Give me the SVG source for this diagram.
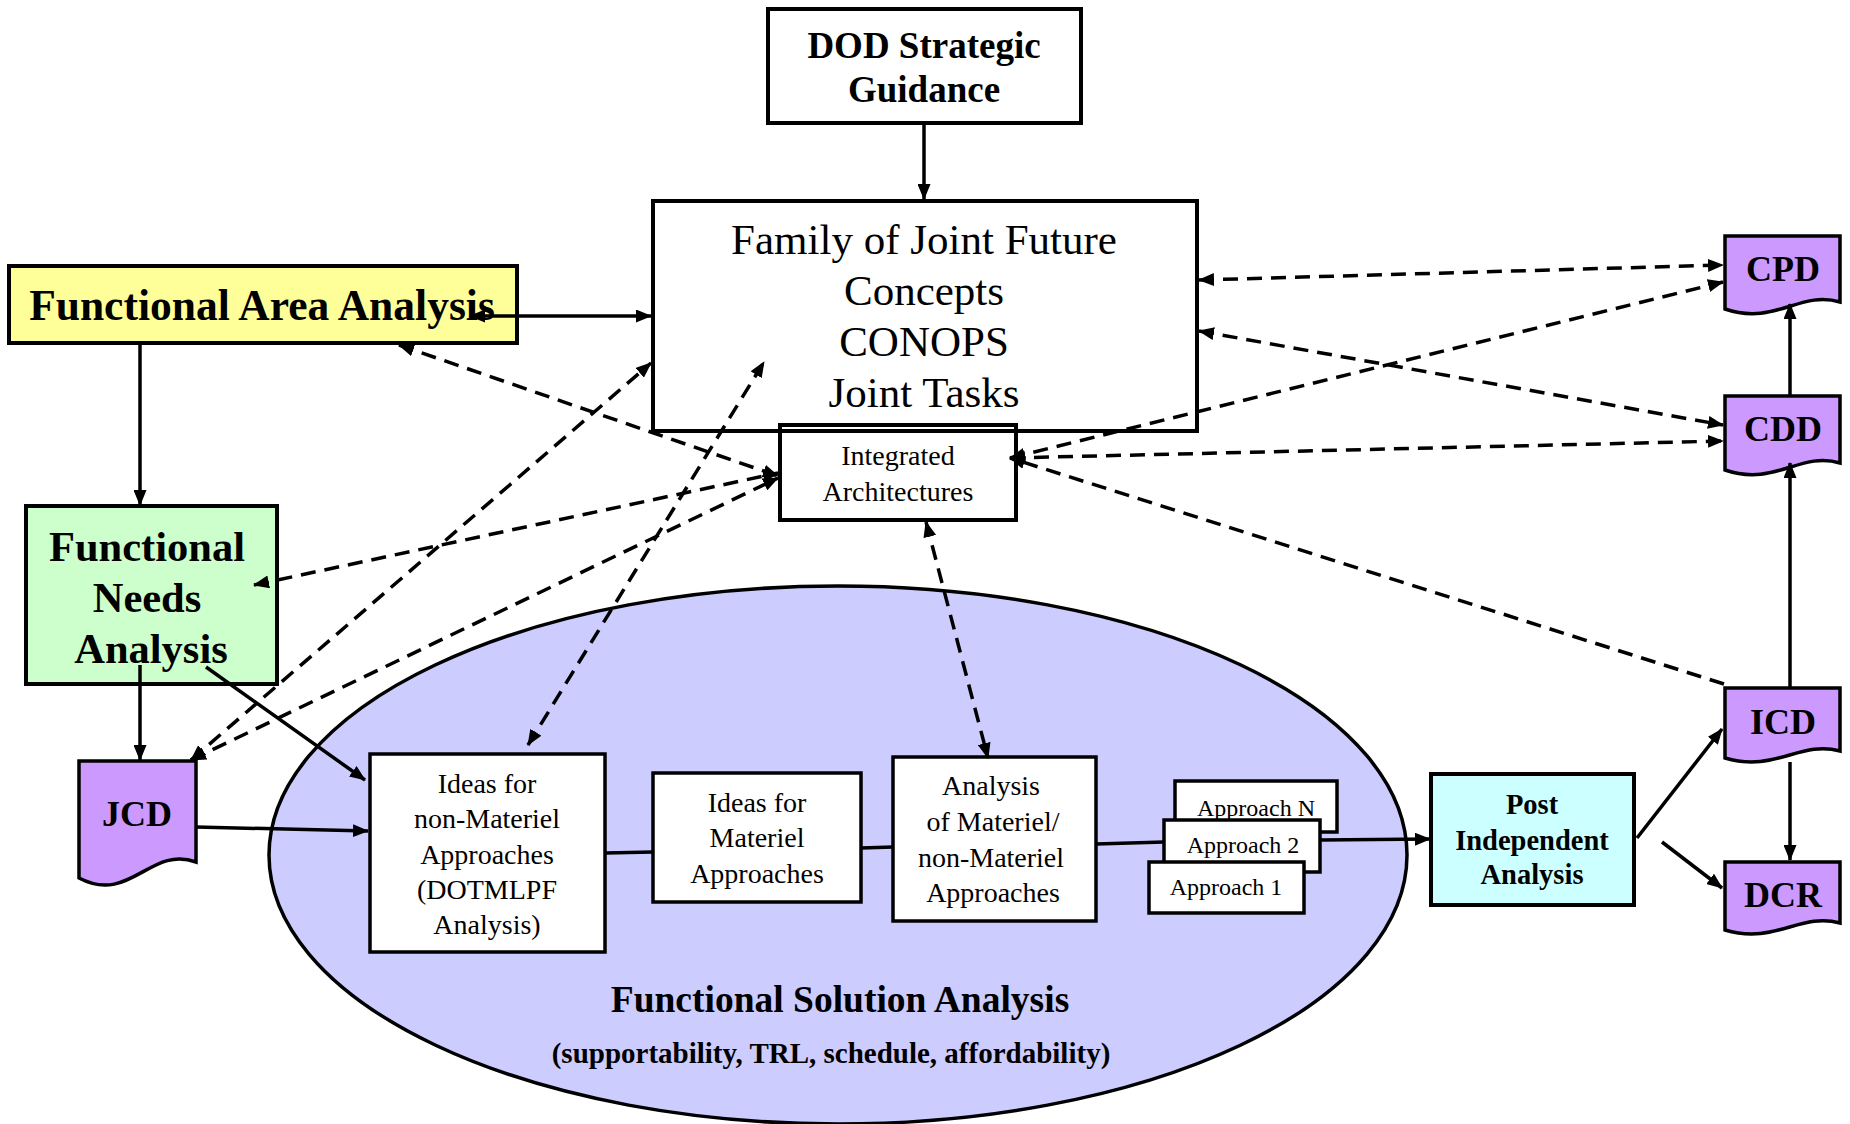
<svg xmlns="http://www.w3.org/2000/svg" width="1850" height="1124" viewBox="0 0 1850 1124">
<defs>
<style>
.box{fill:#fff;stroke:#000;stroke-width:4}
.sbox{fill:#fff;stroke:#000;stroke-width:3.5}
.t{font-family:"Liberation Serif","Times New Roman",serif;fill:#000;text-anchor:middle}
.b{font-weight:bold}
.sol{fill:none;stroke:#000;stroke-width:3.5}
.dash{fill:none;stroke:#000;stroke-width:3.5;stroke-dasharray:15 9}
.doc{fill:#cc99ff;stroke:#000;stroke-width:3.5}
</style>
<marker id="ah" markerUnits="userSpaceOnUse" viewBox="0 0 16 13" markerWidth="16" markerHeight="13" refX="15" refY="6.5" orient="auto-start-reverse"><path d="M0,0 L16,6.5 L0,13 Z" fill="#000"/></marker>
</defs>
<rect x="0" y="0" width="1850" height="1124" fill="#fff"/>

<g id="fsa">
<ellipse cx="838" cy="855" rx="569" ry="269" fill="#ccccff" stroke="#000" stroke-width="3.5"/>
<text class="t b" x="840" y="1012" font-size="37.5">Functional Solution Analysis</text>
<text class="t b" x="831" y="1063" font-size="29">(supportability, TRL, schedule, affordability)</text>
</g>

<g id="dod">
<rect class="box" x="768" y="9" width="313" height="114"/>
<text class="t b" x="924" y="58" font-size="37">DOD Strategic</text>
<text class="t b" x="924" y="102" font-size="37">Guidance</text>
</g>

<g id="ia">
<rect class="box" x="780" y="425" width="236" height="95"/>
<text class="t" x="898" y="465" font-size="28">Integrated</text>
<text class="t" x="898" y="501" font-size="28">Architectures</text>
</g>

<g id="family">
<rect x="653" y="201" width="544" height="230" fill="none" stroke="#000" stroke-width="4"/>
<text class="t" x="924" y="254" font-size="43">Family of Joint Future</text>
<text class="t" x="924" y="305" font-size="43">Concepts</text>
<text class="t" x="924" y="356" font-size="43">CONOPS</text>
<text class="t" x="924" y="407" font-size="43">Joint Tasks</text>
</g>

<g id="faa">
<rect x="9" y="266" width="508" height="77" fill="#ffff99" stroke="#000" stroke-width="4"/>
<text class="t b" x="262" y="320" font-size="43.5">Functional Area Analysis</text>
</g>

<g id="fna">
<rect x="26" y="506" width="251" height="178" fill="#ccffcc" stroke="#000" stroke-width="4"/>
<text class="t b" x="147" y="561" font-size="42.5">Functional</text>
<text class="t b" x="147" y="612" font-size="42.5">Needs</text>
<text class="t b" x="151" y="663" font-size="42.5">Analysis</text>
</g>

<g id="jcd">
<path class="doc" d="M79,761 H196 V862 C150,845 130,905 79,878 Z"/>
<text class="t b" x="137" y="826" font-size="36">JCD</text>
</g>

<g id="ideas-nonmat">
<rect class="sbox" x="370" y="754" width="235" height="198"/>
<text class="t" x="487" y="793" font-size="28">Ideas for</text>
<text class="t" x="487" y="828" font-size="28">non-Materiel</text>
<text class="t" x="487" y="864" font-size="28">Approaches</text>
<text class="t" x="487" y="899" font-size="28">(DOTMLPF</text>
<text class="t" x="487" y="934" font-size="28">Analysis)</text>
</g>

<g id="ideas-mat">
<rect class="sbox" x="653" y="773" width="208" height="129"/>
<text class="t" x="757" y="812" font-size="28">Ideas for</text>
<text class="t" x="757" y="847" font-size="28">Materiel</text>
<text class="t" x="757" y="883" font-size="28">Approaches</text>
</g>

<g id="analysis">
<rect class="sbox" x="893" y="757" width="203" height="164"/>
<text class="t" x="991" y="795" font-size="28">Analysis</text>
<text class="t" x="993" y="831" font-size="28">of Materiel/</text>
<text class="t" x="991" y="867" font-size="28">non-Materiel</text>
<text class="t" x="993" y="902" font-size="28">Approaches</text>
</g>

<g id="approach-n">
<rect class="sbox" x="1175" y="781" width="162" height="51"/>
<text class="t" x="1256" y="816" font-size="24">Approach N</text>
</g>
<g id="approach-2">
<rect class="sbox" x="1164" y="820" width="156" height="52"/>
<text class="t" x="1243" y="853" font-size="24">Approach 2</text>
</g>
<g id="approach-1">
<rect class="sbox" x="1149" y="862" width="155" height="51"/>
<text class="t" x="1226" y="895" font-size="24">Approach 1</text>
</g>

<g id="post">
<rect x="1431" y="774" width="203" height="131" fill="#ccffff" stroke="#000" stroke-width="4"/>
<text class="t b" x="1532" y="814" font-size="28.5">Post</text>
<text class="t b" x="1532" y="850" font-size="28.5">Independent</text>
<text class="t b" x="1532" y="884" font-size="28.5">Analysis</text>
</g>

<g id="cpd">
<path class="doc" d="M1725,236 H1840 V302 C1800,290 1775,326 1725,309 Z"/>
<text class="t b" x="1783" y="281" font-size="36">CPD</text>
</g>
<g id="cdd">
<path class="doc" d="M1725,396 H1840 V463 C1800,451 1775,487 1725,470 Z"/>
<text class="t b" x="1783" y="441" font-size="36">CDD</text>
</g>
<g id="icd">
<path class="doc" d="M1725,688 H1840 V751 C1800,740 1775,773 1725,758 Z"/>
<text class="t b" x="1783" y="734" font-size="36">ICD</text>
</g>
<g id="dcr">
<path class="doc" d="M1725,862 H1840 V923 C1800,912 1775,945 1725,930 Z"/>
<text class="t b" x="1783" y="907" font-size="36">DCR</text>
</g>

<g id="connectors">
<line class="sol" x1="924" y1="125" x2="924" y2="199" marker-end="url(#ah)"/>
<line class="sol" x1="470" y1="316" x2="651" y2="316" marker-start="url(#ah)" marker-end="url(#ah)"/>
<line class="sol" x1="140" y1="345" x2="140" y2="505" marker-end="url(#ah)"/>
<line class="sol" x1="140" y1="665" x2="140" y2="760" marker-end="url(#ah)"/>
<line class="sol" x1="206" y1="667" x2="365" y2="780" marker-end="url(#ah)"/>
<line class="sol" x1="196" y1="827" x2="368" y2="831" marker-end="url(#ah)"/>
<line class="sol" x1="605" y1="853" x2="653" y2="852"/>
<line class="sol" x1="861" y1="848" x2="893" y2="847"/>
<line class="sol" x1="1096" y1="844" x2="1164" y2="842"/>
<line class="sol" x1="1320" y1="840" x2="1430" y2="839" marker-end="url(#ah)"/>
<line class="sol" x1="1637" y1="838" x2="1722" y2="729" marker-end="url(#ah)"/>
<line class="sol" x1="1662" y1="842" x2="1722" y2="888" marker-end="url(#ah)"/>
<line class="sol" x1="1790" y1="688" x2="1790" y2="463" marker-end="url(#ah)"/>
<line class="sol" x1="1790" y1="396" x2="1790" y2="304" marker-end="url(#ah)"/>
<line class="sol" x1="1790" y1="762" x2="1790" y2="860" marker-end="url(#ah)"/>

<line class="dash" x1="399" y1="345" x2="778" y2="476" marker-start="url(#ah)" marker-end="url(#ah)"/>
<line class="dash" x1="254" y1="585" x2="778" y2="473" marker-start="url(#ah)" marker-end="url(#ah)"/>
<line class="dash" x1="191" y1="760" x2="778" y2="478" marker-start="url(#ah)" marker-end="url(#ah)"/>
<line class="dash" x1="191" y1="760" x2="651" y2="363" marker-start="url(#ah)" marker-end="url(#ah)"/>
<line class="dash" x1="528" y1="745" x2="764" y2="362" marker-start="url(#ah)" marker-end="url(#ah)"/>
<line class="dash" x1="926" y1="522" x2="988" y2="758" marker-start="url(#ah)" marker-end="url(#ah)"/>
<line class="dash" x1="1199" y1="280" x2="1723" y2="265" marker-start="url(#ah)" marker-end="url(#ah)"/>
<line class="dash" x1="1199" y1="331" x2="1723" y2="425" marker-start="url(#ah)" marker-end="url(#ah)"/>
<line class="dash" x1="1010" y1="458" x2="1723" y2="282" marker-start="url(#ah)" marker-end="url(#ah)"/>
<line class="dash" x1="1010" y1="458" x2="1723" y2="441" marker-start="url(#ah)" marker-end="url(#ah)"/>
<line class="dash" x1="1724" y1="684" x2="1010" y2="458" marker-end="url(#ah)"/>
</g>
</svg>
